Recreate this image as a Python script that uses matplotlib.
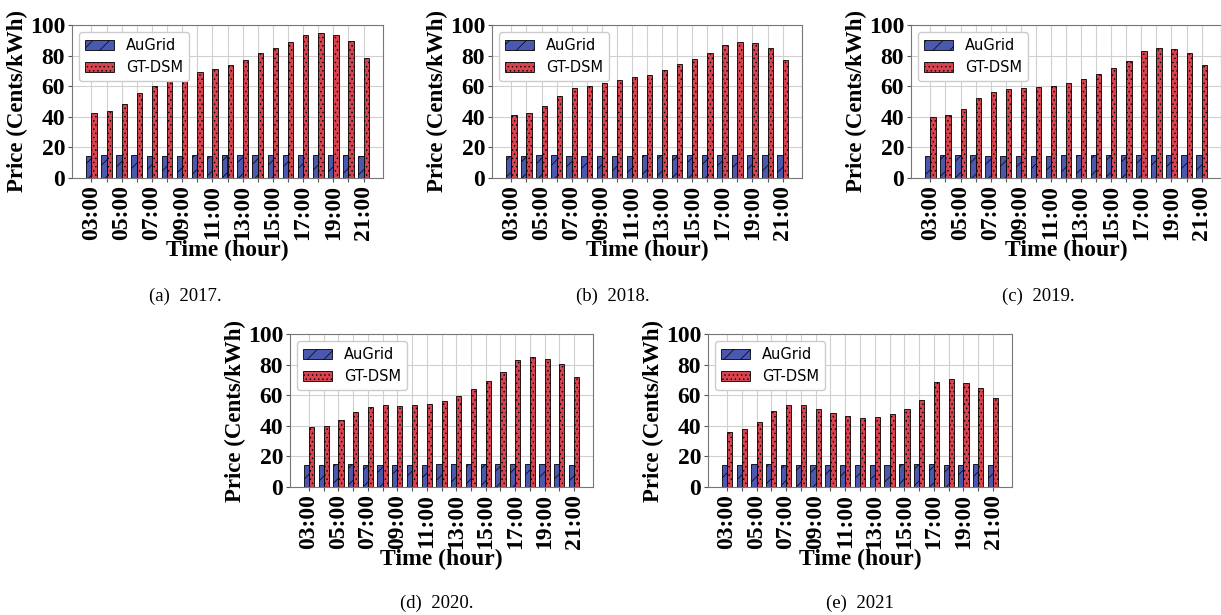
import matplotlib
matplotlib.use("Agg")
import matplotlib.pyplot as plt
import numpy as np

hours = ["03:00", "04:00", "05:00", "06:00", "07:00", "08:00", "09:00", "10:00", "11:00",
         "12:00", "13:00", "14:00", "15:00", "16:00", "17:00", "18:00", "19:00", "20:00", "21:00"]

aug_2017 = [14.4, 15.1, 15.1, 15.3, 14.4, 14.4, 14.4, 15.1, 14.4, 15.1, 15.1, 15.1, 15.1, 15.1, 15.1, 15.1, 15.1, 15.1, 14.4]
gt_2017 = [42.4, 44.1, 48.3, 55.4, 60.2, 63.9, 64.8, 69.6, 71.3, 73.9, 77.2, 81.7, 84.8, 88.7, 93.7, 94.8, 93.7, 89.6, 78.3]

aug_2018 = [14.4, 14.4, 15.1, 15.1, 14.4, 14.4, 14.4, 14.4, 14.4, 15.1, 15.1, 15.1, 15.1, 15.1, 15.1, 15.1, 15.1, 15.1, 15.1]
gt_2018 = [41.3, 42.4, 47.2, 53.7, 58.7, 60.4, 62.0, 63.9, 65.7, 67.6, 70.7, 74.6, 77.8, 82.0, 87.2, 88.9, 88.0, 85.2, 77.2]

aug_2019 = [14.4, 15.1, 15.1, 15.1, 14.4, 14.4, 14.4, 14.4, 14.4, 15.1, 15.1, 15.1, 15.1, 15.1, 15.1, 15.1, 15.1, 15.1, 15.1]
gt_2019 = [39.8, 41.1, 45.4, 52.2, 56.5, 58.3, 58.7, 59.3, 60.0, 62.0, 64.8, 68.0, 71.7, 76.5, 83.3, 85.0, 84.3, 81.5, 73.7]

aug_2020 = [14.2, 14.2, 15.1, 15.1, 14.2, 14.2, 14.2, 14.2, 14.2, 15.1, 15.1, 15.1, 15.1, 15.1, 15.1, 15.1, 15.1, 15.1, 14.2]
gt_2020 = [39.3, 40.0, 43.7, 48.9, 52.2, 53.3, 53.1, 53.3, 54.1, 56.3, 59.6, 64.2, 69.2, 74.9, 82.8, 85.2, 83.8, 80.1, 71.8]

aug_2021 = [14.2, 14.2, 15.1, 15.1, 14.2, 14.2, 14.2, 14.2, 14.2, 14.2, 14.2, 14.2, 15.1, 15.1, 15.1, 14.2, 14.2, 15.1, 14.2]
gt_2021 = [36.0, 37.8, 42.6, 49.8, 53.7, 53.7, 51.1, 48.3, 46.1, 45.2, 45.6, 47.4, 50.7, 56.8, 68.8, 70.7, 68.3, 64.4, 58.3]

captions = ["(a)  2017.", "(b)  2018.", "(c)  2019.", "(d)  2020.", "(e)  2021"]
series = [(aug_2017, gt_2017), (aug_2018, gt_2018), (aug_2019, gt_2019),
          (aug_2020, gt_2020), (aug_2021, gt_2021)]

W, H = 1221, 615
fig = plt.figure(figsize=(W / 100, H / 100), dpi=100)

# axes boxes in pixels: left, top, right, bottom
boxes = [(72, 25, 383, 178), (492, 25, 802, 178), (911, 25, 1221, 178),
         (290, 334, 593, 487), (708, 334, 1012, 487)]
cap_pos = [(185, 296), (613, 296), (1038, 296), (437, 603), (860, 603)]

serif = "Liberation Serif"
blue = "#4a58b0"
red = "#d8434f"
plt.rcParams["hatch.linewidth"] = 0.5

x = np.arange(len(hours))
w = 0.35
for (aug, gt), (l, t, r, b), cap, (cx, cy) in zip(series, boxes, captions, cap_pos):
    ax = fig.add_axes([l / W, 1 - b / H, (r - l) / W, (b - t) / H])
    ax.set_axisbelow(True)
    ax.grid(True, color="#d0d0d0", linewidth=0.8)
    ax.bar(x - w / 2, aug, width=w, color=blue, edgecolor="black", linewidth=0.6,
           hatch="//", label="AuGrid")
    ax.bar(x + w / 2, gt, width=w, color=red, edgecolor="black", linewidth=0.6,
           hatch="....", label="GT-DSM")
    ax.set_ylim(0, 100)
    ax.set_yticks([0, 20, 40, 60, 80, 100])
    ax.set_xticks(x)
    ax.set_xticklabels([h if i % 2 == 0 else "" for i, h in enumerate(hours)],
                       rotation=90, fontfamily=serif, fontweight="bold", fontsize=17)
    for lab in ax.get_yticklabels():
        lab.set_fontfamily(serif)
        lab.set_fontweight("bold")
        lab.set_fontsize(17)
    ax.tick_params(axis="both", length=3, pad=2, color="#555555")
    for s in ax.spines.values():
        s.set_color("#777777")
    ax.set_xlabel("Time (hour)", fontfamily=serif, fontweight="bold", fontsize=17, labelpad=0)
    ax.set_ylabel("Price (Cents/kWh)", fontfamily=serif, fontweight="bold", fontsize=16.5, labelpad=1)
    ax.legend(loc="upper left", prop={"family": "DejaVu Sans", "size": 10.5},
              framealpha=1, edgecolor="#cccccc")
    fig.text(cx / W, 1 - cy / H, cap, ha="center", va="center", fontfamily=serif, fontsize=13.5)

fig.savefig("out.png", dpi=100)
